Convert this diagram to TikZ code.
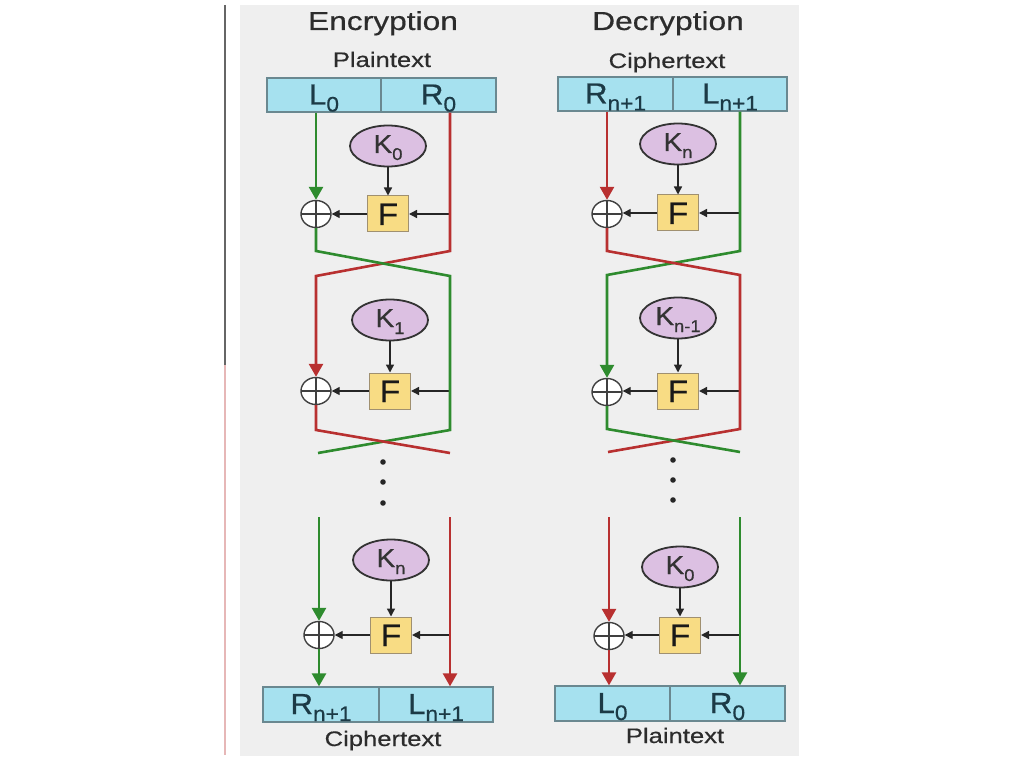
\documentclass[tikz,border=0pt]{standalone}
\usepackage{fontspec}
\setmainfont{Liberation Sans}
\newfontfamily\capfont{Liberation Sans}[FakeStretch=1.22,FakeBold=0.5]
\newfontfamily\lblfont{Liberation Sans}[FakeStretch=1.08,FakeBold=0.6]
\usetikzlibrary{arrows.meta,shapes.geometric}
\definecolor{panel}{HTML}{EFEFEF}
\definecolor{boxfill}{HTML}{A6E1EF}
\definecolor{boxdraw}{HTML}{6A8890}
\definecolor{keyfill}{HTML}{DCC0E2}
\definecolor{keydraw}{HTML}{333333}
\definecolor{ffill}{HTML}{F8DC84}
\definecolor{fdraw}{HTML}{A09070}
\definecolor{gr}{HTML}{2E8B2E}
\definecolor{rd}{HTML}{B83030}
\definecolor{txt}{HTML}{2C2C2C}
\definecolor{lbl}{HTML}{1C3A46}
\newcommand{\lsub}[1]{\raisebox{-7pt}{\fontsize{21}{21}\selectfont #1}}
\newcommand{\ksub}[1]{\raisebox{-7pt}{\fontsize{17}{17}\selectfont #1}}
\begin{document}
\begin{tikzpicture}[x=1pt,y=-1pt,
  cell/.style={draw=boxdraw,fill=boxfill,line width=1.3pt,minimum height=34pt,inner sep=0pt,
    text=lbl,font=\lblfont\fontsize{29}{29}\selectfont,text height=21pt,text depth=2pt},
  key/.style={ellipse,draw=keydraw,fill=keyfill,line width=1.8pt,minimum width=76pt,minimum height=41pt,
    inner sep=0pt,text=keydraw,font=\lblfont\fontsize{26}{26}\selectfont,text height=18pt,text depth=4pt},
  fbox/.style={draw=fdraw,fill=ffill,line width=1pt,minimum width=41pt,minimum height=36pt,inner sep=0pt,
    text=black!90,font=\lblfont\fontsize{31}{31}\selectfont,text height=22pt,text depth=0pt},
  xor/.style={ellipse,draw=black!75,fill=white,line width=1.4pt,minimum width=30pt,minimum height=27pt,inner sep=0pt,
    path picture={\draw[black!75,line width=1.2pt] (path picture bounding box.north) -- (path picture bounding box.south)
      (path picture bounding box.west) -- (path picture bounding box.east);}},
  ttl/.style={anchor=base,text=txt,font=\capfont\fontsize{26}{26}\selectfont,inner sep=0pt},
  capt/.style={anchor=base,text=txt,font=\capfont\fontsize{21}{21}\selectfont,inner sep=0pt},
  gline/.style={draw=gr,line width=2.6pt},
  rline/.style={draw=rd,line width=2.6pt},
  ctip/.style={-{Triangle[width=14pt,length=13pt]}},
  farrow/.style={draw=black!85,line width=1.4pt,-{Triangle[width=8pt,length=8pt]}},
  dot/.style={fill=black!85}
]
\useasboundingbox (0,0) rectangle (1024,767);
% background panel and side rule
\fill[panel] (240,5) rectangle (799,756);
\draw[black!60,line width=1.6pt] (225,5) -- (225,365);
\draw[rd!35,line width=1.6pt] (225,365) -- (225,755);

% ================= Encryption =================
\node[ttl] (etitle) at (383,30) {Encryption};
\node[capt] (eptxt) at (382,67) {Plaintext};
\node[cell,minimum width=114pt] (eL0) at (324,95) {L\lsub{0}};
\node[cell,minimum width=115pt] (eR0) at (438.5,95) {R\lsub{0}};

% round 1
\node[xor] (ex1) at (316,214) {};
\node[fbox] (ef1) at (388,214) {F};
\node[key] (ek1) at (388,146) {K\ksub{0}};
\coordinate (eT1) at (450,214);
\draw[farrow] (ek1.south) -- (ef1.north);
\draw[farrow] (eT1) -- (ef1.east);
\draw[farrow] (ef1.west) -- (ex1.east);

% round 2
\node[xor] (ex2) at (316,391) {};
\node[fbox] (ef2) at (390,391) {F};
\node[key] (ek2) at (390,320) {K\ksub{1}};
\coordinate (eT2) at (450,391);
\draw[farrow] (ek2.south) -- (ef2.north);
\draw[farrow] (eT2) -- (ef2.east);
\draw[farrow] (ef2.west) -- (ex2.east);

% round n
\node[xor] (ex3) at (319,635) {};
\node[fbox] (ef3) at (391,635) {F};
\node[key] (ek3) at (391,560) {K\ksub{n}};
\coordinate (eT3) at (450,635);
\draw[farrow] (ek3.south) -- (ef3.north);
\draw[farrow] (eT3) -- (ef3.east);
\draw[farrow] (ef3.west) -- (ex3.east);

\node[cell,minimum width=116pt,minimum height=35pt] (eRn) at (321,704.5) {R\lsub{n+1}};
\node[cell,minimum width=114pt,minimum height=35pt] (eLn) at (436,704.5) {L\lsub{n+1}};
\node[capt] (ectxt) at (383,746) {Ciphertext};

% coloured paths
\draw[gline,ctip] (eL0.south -| ex1) -- (ex1.north);
\draw[rline,ctip] (eR0.south -| eT1) -- (450,251) -- (316,276) -- (ex2.north);
\draw[gline] (ex1.south) -- (316,251) -- (450,276) -- (450,430) -- (318,453);
\draw[rline] (ex2.south) -- (316,430) -- (450,453);
\coordinate (eG3) at (319,517);
\coordinate (eR3) at (450,517);
\draw[gline,ctip] (eG3) -- (ex3.north);
\draw[gline,ctip] (ex3.south) -- (ex3 |- eRn.north);
\draw[rline,ctip] (eR3) -- (eR3 |- eLn.north);
% dots
\fill[dot] (383,462) circle (2.8pt);
\fill[dot] (383,482) circle (2.8pt);
\fill[dot] (383,503) circle (2.8pt);

% ================= Decryption =================
\node[ttl] (dtitle) at (668,30) {Decryption};
\node[capt] (dctxt) at (667,68) {Ciphertext};
\node[cell,minimum width=115pt] (dRn) at (615.5,94) {R\lsub{n+1}};
\node[cell,minimum width=114pt] (dLn) at (730,94) {L\lsub{n+1}};

% round 1
\node[xor] (dx1) at (607,214) {};
\node[fbox] (df1) at (678,213) {F};
\node[key] (dk1) at (678,144) {K\ksub{n}};
\coordinate (dT1) at (740,213);
\draw[farrow] (dk1.south) -- (df1.north);
\draw[farrow] (dT1) -- (df1.east);
\draw[farrow] (df1.west) -- (dx1.east |- df1.west);

% round 2
\node[xor] (dx2) at (607,392) {};
\node[fbox] (df2) at (678,391) {F};
\node[key] (dk2) at (678,318) {K\ksub{n-1}};
\coordinate (dT2) at (740,391);
\draw[farrow] (dk2.south) -- (df2.north);
\draw[farrow] (dT2) -- (df2.east);
\draw[farrow] (df2.west) -- (dx2.east |- df2.west);

% round last
\node[xor] (dx3) at (609,636) {};
\node[fbox] (df3) at (680,635) {F};
\node[key] (dk3) at (680,567) {K\ksub{0}};
\coordinate (dT3) at (740,635);
\draw[farrow] (dk3.south) -- (df3.north);
\draw[farrow] (dT3) -- (df3.east);
\draw[farrow] (df3.west) -- (dx3.east |- df3.west);

\node[cell,minimum width=115pt,minimum height=35pt] (dL0) at (612.5,703.5) {L\lsub{0}};
\node[cell,minimum width=115pt,minimum height=35pt] (dR0) at (727.5,703.5) {R\lsub{0}};
\node[capt] (dptxt) at (675,743) {Plaintext};

% coloured paths
\draw[rline,ctip] (dRn.south -| dx1) -- (dx1.north);
\draw[gline,ctip] (dLn.south -| dT1) -- (740,251) -- (607,275) -- (dx2.north);
\draw[rline] (dx1.south) -- (607,251) -- (740,275) -- (740,429) -- (608,452);
\draw[gline] (dx2.south) -- (607,429) -- (740,452);
\coordinate (dR3) at (609,517);
\coordinate (dG3) at (740,517);
\draw[rline,ctip] (dR3) -- (dx3.north);
\draw[rline,ctip] (dx3.south) -- (dx3 |- dL0.north);
\draw[gline,ctip] (dG3) -- (dG3 |- dR0.north);
% dots
\fill[dot] (673,460) circle (2.8pt);
\fill[dot] (673,480) circle (2.8pt);
\fill[dot] (673,500) circle (2.8pt);
\end{tikzpicture}
\end{document}
